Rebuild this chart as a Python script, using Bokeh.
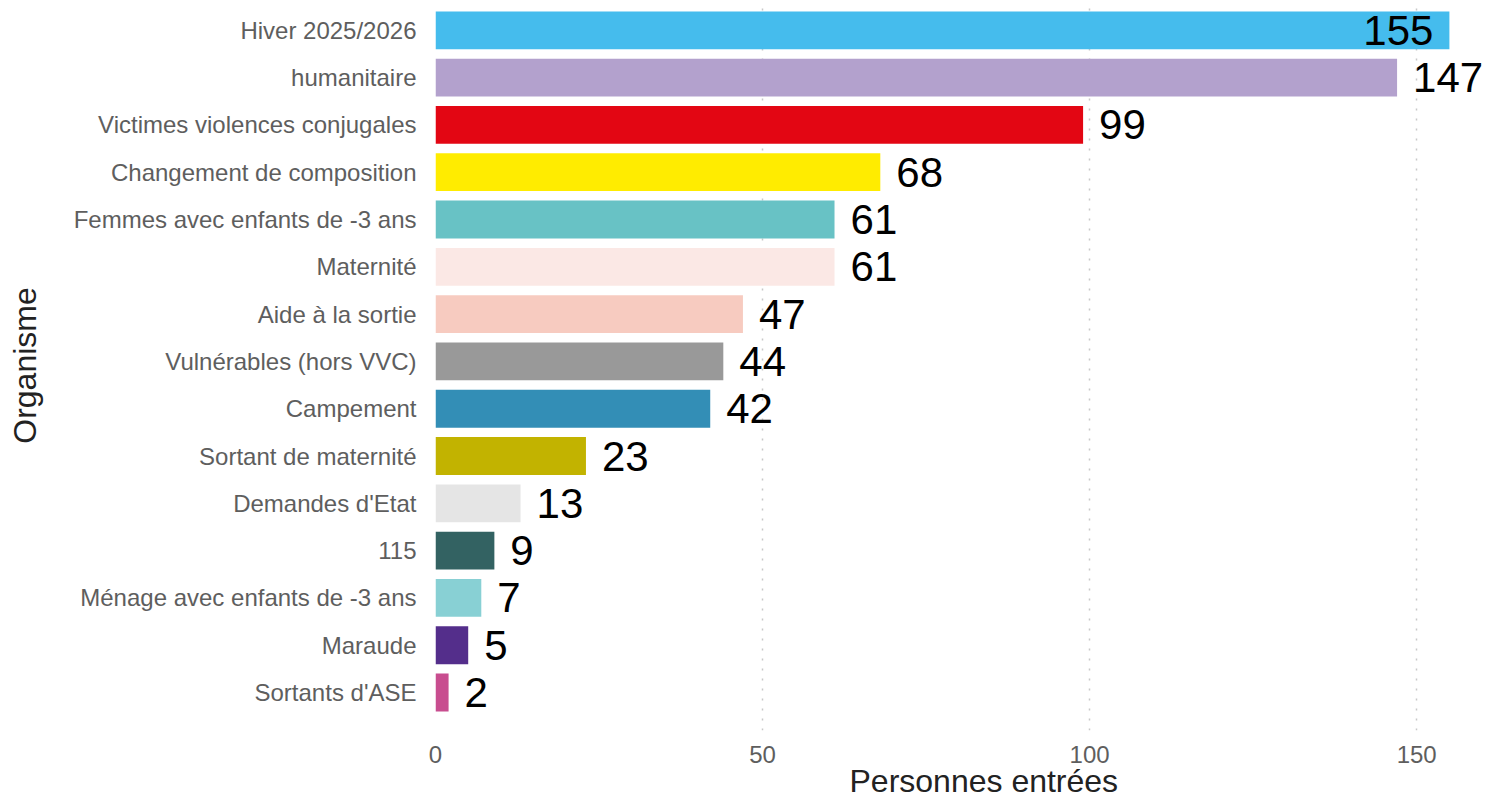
from bokeh.plotting import figure
from bokeh.models import ColumnDataSource, Range1d, FixedTicker, Title
from bokeh.embed import file_html
from bokeh.resources import INLINE
from bokeh.core.properties import value

categories = ["Hiver 2025/2026", "humanitaire", "Victimes violences conjugales",
              "Changement de composition", "Femmes avec enfants de -3 ans", "Maternité",
              "Aide à la sortie", "Vulnérables (hors VVC)", "Campement",
              "Sortant de maternité", "Demandes d'Etat", "115",
              "Ménage avec enfants de -3 ans", "Maraude", "Sortants d'ASE"]
counts = [155, 147, 99, 68, 61, 61, 47, 44, 42, 23, 13, 9, 7, 5, 2]
colors = ["#45BCED", "#B3A1CD", "#E30613", "#FFEC00", "#68C2C5", "#FBE8E5",
          "#F7CBC0", "#999999", "#338EB6", "#C2B300", "#E5E5E5", "#336262",
          "#88D0D4", "#542E8B", "#C84D8F"]
x_ticks = [0, 50, 100, 150]

n = len(categories)
ypos = [n - i for i in range(n)]
vmax = max(counts)
align = ["right" if v == vmax else "left" for v in counts]
xoff = [-16 if v == vmax else 16 for v in counts]

src = ColumnDataSource(dict(y=ypos, v=counts, c=colors, t=[str(v) for v in counts],
                            al=align, xo=xoff))

FONT = "Liberation Sans"

p = figure(width=1496, height=799, output_backend="svg", toolbar_location=None,
           x_range=Range1d(0, 162.2), y_range=Range1d(0.197, 15.63),
           min_border_left=435, min_border_right=0, min_border_top=0, min_border_bottom=69)
p.outline_line_color = None
p.background_fill_color = "white"

p.hbar(y="y", right="v", left=0, height=0.8, fill_color="c", line_color=None, source=src)
p.text(x="v", y="y", text="t", text_align="al", x_offset="xo", text_baseline="middle",
       text_font=value(FONT), text_font_size="42px", text_color="black", source=src)

# x axis
p.xaxis.ticker = FixedTicker(ticks=x_ticks)
p.xaxis.axis_line_color = None
p.xaxis.major_tick_line_color = None
p.xaxis.minor_tick_line_color = None
p.xaxis.major_tick_out = 0
p.xaxis.major_tick_in = 0
p.xaxis.major_label_standoff = 15
p.xaxis.major_label_text_font = FONT
p.xaxis.major_label_text_font_size = "24px"
p.xaxis.major_label_text_color = "#5E5E5E"

xtitle = Title(text="Personnes entrées", align="left", offset=414, standoff=-9,
               text_font=FONT, text_font_size="32px", text_font_style="normal",
               text_color="#222222")
p.add_layout(xtitle, "below")

# y axis
p.yaxis.ticker = FixedTicker(ticks=ypos)
p.yaxis.major_label_overrides = {y: c for y, c in zip(ypos, categories)}
p.yaxis.axis_line_color = None
p.yaxis.major_tick_line_color = None
p.yaxis.minor_tick_line_color = None
p.yaxis.major_tick_out = 0
p.yaxis.major_tick_in = 0
p.yaxis.major_label_standoff = 19
p.yaxis.major_label_text_font = FONT
p.yaxis.major_label_text_font_size = "24px"
p.yaxis.major_label_text_color = "#5E5E5E"
p.yaxis.axis_label = "Organisme"
p.yaxis.axis_label_text_font = FONT
p.yaxis.axis_label_text_font_size = "32px"
p.yaxis.axis_label_text_font_style = "normal"
p.yaxis.axis_label_text_color = "#222222"
p.yaxis.axis_label_standoff = 28

# grids
p.ygrid.grid_line_color = None
p.xgrid.ticker = FixedTicker(ticks=x_ticks)
p.xgrid.grid_line_color = "#C8C8C8"
p.xgrid.grid_line_width = 1.5
p.xgrid.grid_line_dash = "2 8"

open("out.html", "w").write(file_html(p, INLINE))
